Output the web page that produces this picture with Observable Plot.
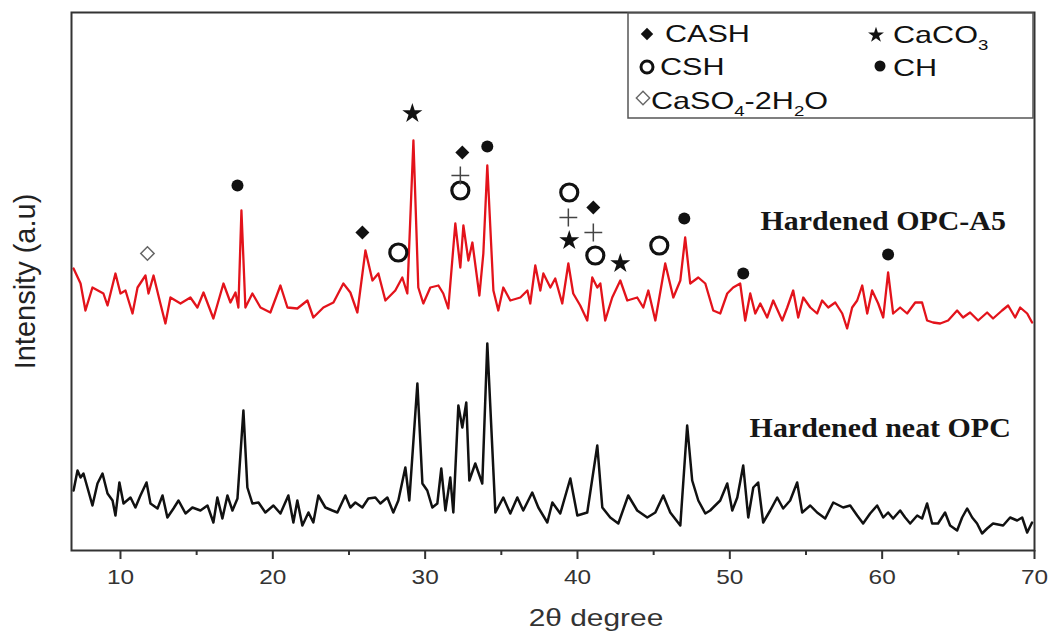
<!DOCTYPE html>
<html><head><meta charset="utf-8">
<script src="https://cdn.jsdelivr.net/npm/d3@7"></script>
<script src="https://cdn.jsdelivr.net/npm/@observablehq/plot@0.6"></script>
<style>
body{margin:0;background:#fff;}
#chart{position:relative;width:1050px;height:633px;}
</style>
</head><body><div id="chart"></div>
<script>
// ---- Data (2θ in degrees, intensity in arbitrary units, as plotted with offsets) ----
const a5Theta = [6.92,7.38,7.70,8.16,8.88,9.15,9.67,10.00,10.33,10.79,11.12,11.64,11.84,12.17,12.62,12.95,13.28,13.94,14.59,15.05,15.45,16.10,16.76,17.22,17.55,17.74,17.94,18.20,18.66,19.19,19.84,20.50,20.96,21.61,22.27,22.66,23.32,23.98,24.63,25.09,25.55,26.08,26.54,26.93,27.39,28.04,28.50,28.83,29.23,29.55,29.88,30.34,30.87,31.19,31.52,31.98,32.31,32.51,32.84,33.10,33.56,33.82,34.08,34.48,34.80,35.13,35.59,36.25,36.71,36.90,37.23,37.56,37.76,38.22,38.54,39.00,39.40,39.72,40.18,40.64,40.97,41.30,41.50,41.82,42.28,42.81,43.27,43.92,44.32,44.65,45.11,45.76,46.29,46.75,47.07,47.40,47.93,48.39,48.91,49.37,49.83,50.22,50.68,51.01,51.34,51.67,52.00,52.45,52.85,53.44,53.77,54.16,54.49,54.82,55.28,55.73,56.06,56.46,56.92,57.38,57.70,58.03,58.36,58.69,59.02,59.34,59.74,60.07,60.39,60.72,61.18,61.64,62.17,62.62,62.95,63.34,63.81,64.33,64.92,65.31,65.77,66.30,66.89,67.28,67.87,68.27,68.73,69.06,69.52,69.84];
const a5Intensity = [282,267,240,263,257,245,277,257,260,237,263,275,257,275,247,227,253,247,253,243,258,232,267,248,258,243,340,243,257,243,238,265,243,242,250,233,243,248,267,258,238,300,270,277,250,260,273,257,410,263,247,263,265,257,242,327,283,325,290,308,255,297,385,260,240,263,250,253,260,247,285,260,277,263,272,247,287,257,245,230,273,263,267,230,253,270,250,253,243,260,230,287,253,270,313,267,273,267,240,237,257,263,267,230,257,237,247,233,250,230,243,260,233,253,243,237,250,243,248,237,222,243,250,265,237,260,247,233,278,237,243,237,248,248,230,228,227,230,240,233,238,230,238,232,240,245,233,243,237,228];

const neatTheta = [6.92,7.18,7.38,7.57,7.83,8.16,8.49,8.82,9.15,9.48,9.67,9.93,10.20,10.66,10.98,11.31,11.71,11.97,12.43,12.76,13.08,13.48,13.81,14.27,14.72,15.25,15.71,16.10,16.36,16.69,17.02,17.35,17.68,18.07,18.33,18.66,19.06,19.51,20.04,20.50,21.02,21.35,21.61,21.94,22.34,22.66,22.99,23.45,23.91,24.24,24.76,25.09,25.42,25.88,26.27,26.73,27.06,27.52,27.91,28.24,28.70,28.96,29.49,29.82,30.14,30.47,30.80,31.06,31.33,31.65,31.85,32.18,32.44,32.70,32.90,33.29,33.75,34.08,34.61,35.13,35.59,36.05,36.44,37.03,37.43,38.02,38.35,38.87,39.53,39.99,40.64,41.30,41.63,42.15,42.68,43.33,43.92,44.58,45.11,45.63,46.09,46.75,47.20,47.53,47.93,48.39,48.71,49.37,49.83,50.16,50.49,50.88,51.21,51.54,51.86,52.19,52.65,53.11,53.50,53.96,54.42,54.75,55.28,55.73,56.26,56.79,57.44,57.90,58.36,58.75,59.21,59.67,60.07,60.39,60.72,61.18,61.51,61.84,62.30,62.62,62.95,63.28,63.67,64.13,64.46,64.92,65.25,65.58,65.91,66.23,66.56,66.89,67.28,67.94,68.40,68.86,69.19,69.52,69.84];
const neatIntensity = [60,80,73,77,63,45,67,77,57,50,35,68,47,53,43,55,68,47,42,55,33,42,50,37,43,40,45,28,53,32,55,40,52,140,63,47,48,38,45,37,55,28,50,25,38,28,55,43,40,38,55,43,48,43,52,53,47,53,38,50,83,50,167,67,60,43,47,82,40,73,38,145,123,148,70,87,67,207,38,53,37,53,40,58,43,28,48,37,72,35,38,105,43,33,27,55,40,33,38,55,38,25,125,70,50,37,40,50,67,40,53,85,33,63,68,28,40,53,42,50,68,38,45,38,32,48,43,45,35,27,37,45,33,38,32,40,33,27,35,32,47,27,27,38,25,20,33,42,33,27,17,22,27,25,33,30,33,18,28];

// Phase markers above the OPC-A5 pattern
const markerTheta     = [11.77, 17.68, 25.88, 28.24, 29.16, 32.44, 32.31, 32.31, 34.08, 39.46, 39.40, 39.46, 41.04, 41.04, 41.17, 42.81, 45.37, 47.01, 50.88, 60.39];
const markerIntensity = [297,   365,   318,   298,   437,   398,   375,   360,   404,   358,   333,   310,   343,   318,   295,   287,   305,   332,   277,   296];
const markerPhase     = ["CaSO4","CH","CASH","CSH","CaCO3","CASH","plus","CSH","CH","CSH","plus","CaCO3","CASH","plus","CSH","CaCO3","CSH","CH","CH","CH"];

// Series labels
const labelText      = ["Hardened OPC-A5", "Hardened neat OPC"];
const labelTheta     = [60.07, 59.87];
const labelIntensity = [329.5, 122];

// Axis ticks
const majorTicks = [10, 20, 30, 40, 50, 60, 70];
const minorTicks = [15, 25, 35, 45, 55, 65];

const a5 = a5Theta.map((t, i) => ({theta: t, I: a5Intensity[i]}));
const neat = neatTheta.map((t, i) => ({theta: t, I: neatIntensity[i]}));
const markers = markerTheta.map((t, i) => ({theta: t, I: markerIntensity[i], phase: markerPhase[i]}));
const labels = labelText.map((s, i) => ({text: s, theta: labelTheta[i], I: labelIntensity[i]}));
const ofPhase = p => markers.filter(d => d.phase === p);

const plot = Plot.plot({
  width: 1050,
  height: 633,
  marginLeft: 71,
  marginRight: 16,
  marginTop: 12,
  marginBottom: 83,
  style: {fontFamily: "'Liberation Sans', Arial, sans-serif", background: "#fff", color: "#333"},
  x: {domain: [6.785, 70]},
  y: {domain: [0, 538], axis: null},
  marks: [
    Plot.line(neat, {x: "theta", y: "I", stroke: "#111", strokeWidth: 2.5, strokeLinejoin: "round"}),
    Plot.line(a5, {x: "theta", y: "I", stroke: "#e3131b", strokeWidth: 2.3, strokeLinejoin: "round"}),
    Plot.frame({stroke: "#333", strokeWidth: 2}),
    Plot.axisX({ticks: majorTicks, tickSize: 9, tickPadding: 10, stroke: "#333", strokeWidth: 2, fill: "#333", fontSize: 20, label: null}),
    Plot.axisX({ticks: minorTicks, tickSize: 5, tickFormat: () => "", stroke: "#333", strokeWidth: 2, label: null}),
    Plot.text(["2θ degree"], {text: d => d, frameAnchor: "bottom", dx: 43, dy: 68, lineAnchor: "middle", textAnchor: "middle", fontSize: 23, fill: "#333"}),
    Plot.text(["Intensity (a.u)"], {text: d => d, frameAnchor: "left", dx: -46, rotate: -90, lineAnchor: "middle", textAnchor: "middle", fontSize: 29, fill: "#222"}),
    // markers
    Plot.dot(ofPhase("CaSO4"), {x: "theta", y: "I", symbol: "diamond2", r: 6, fill: "white", stroke: "#666", strokeWidth: 1.5}),
    Plot.dot(ofPhase("CH"), {x: "theta", y: "I", symbol: "circle", r: 6, fill: "#111", stroke: "none"}),
    Plot.dot(ofPhase("CASH"), {x: "theta", y: "I", symbol: "diamond2", r: 6.3, fill: "#111", stroke: "none"}),
    Plot.dot(ofPhase("CSH"), {x: "theta", y: "I", symbol: "circle", r: 8.5, fill: "none", stroke: "#111", strokeWidth: 3.2}),
    Plot.dot(ofPhase("CaCO3"), {x: "theta", y: "I", symbol: "star", r: 6.3, fill: "#111", stroke: "none"}),
    Plot.dot(ofPhase("plus"), {x: "theta", y: "I", symbol: "plus", r: 5.8, fill: "none", stroke: "#444", strokeWidth: 1.5}),
    // series labels
    Plot.text(labels, {x: "theta", y: "I", text: "text", textAnchor: "middle", lineAnchor: "middle", fontFamily: "'Liberation Serif', 'Times New Roman', serif", fontWeight: "bold", fontSize: 28, fill: "#161616"})
  ]
});

// horizontal stretch of text around its anchor, as in the reference
function stretch(node, sx) {
  const t = node.getAttribute("transform") || "";
  const x = parseFloat(node.getAttribute("x")) || 0;
  node.setAttribute("transform", `${t} translate(${x},0) scale(${sx},1) translate(${-x},0)`);
}
const svg = d3.select(plot);
svg.selectAll("text").each(function() {
  const s = this.textContent;
  if (/^\d+$/.test(s)) stretch(this, 1.22);
  else if (s === "2θ degree") stretch(this, 1.3);
  else if (s.startsWith("Hardened")) stretch(this, 1.07);
});

// legend box (top-right of frame)
const lg = svg.append("g").attr("aria-label", "legend").attr("text-anchor", "start");
lg.append("rect").attr("x", 628).attr("y", 13).attr("width", 405).attr("height", 105)
  .attr("fill", "white").attr("stroke", "#555").attr("stroke-width", 1.5);
const sym = (type, r) => d3.symbol().type(type).size(Math.PI * r * r)();
lg.append("path").attr("d", sym(d3.symbolDiamond2, 5.6)).attr("transform", "translate(647,34)").attr("fill", "#111");
lg.append("path").attr("d", sym(d3.symbolStar, 5)).attr("transform", "translate(876,35)").attr("fill", "#111");
lg.append("path").attr("d", sym(d3.symbolCircle, 6)).attr("transform", "translate(647,67)").attr("fill", "none").attr("stroke", "#111").attr("stroke-width", 3);
lg.append("path").attr("d", sym(d3.symbolCircle, 5.5)).attr("transform", "translate(880,66)").attr("fill", "#111");
lg.append("path").attr("d", sym(d3.symbolDiamond2, 6)).attr("transform", "translate(643,98)").attr("fill", "white").attr("stroke", "#666").attr("stroke-width", 1.4);

function legendText(x, y, parts) {
  const t = lg.append("text").attr("transform", `translate(${x},${y}) scale(1.33,1)`)
    .attr("text-anchor", "start")
    .attr("font-family", "'Liberation Sans', Arial, sans-serif").attr("font-size", 23).attr("fill", "#111");
  let wasSub = false;
  parts.forEach(([s, sub]) => {
    const ts = t.append("tspan").text(s);
    if (sub) { ts.attr("font-size", 14).attr("dy", 7); wasSub = true; }
    else if (wasSub) { ts.attr("dy", -7); wasSub = false; }
  });
  return t;
}
legendText(665, 42, [["CASH"]]);
legendText(893, 43, [["CaCO"], ["3", true]]);
legendText(660, 75, [["CSH"]]);
legendText(893, 76, [["CH"]]);
legendText(651, 109, [["CaSO"], ["4", true], ["-2H"], ["2", true], ["O"]]);

document.getElementById("chart").appendChild(plot);
</script>
</body></html>
